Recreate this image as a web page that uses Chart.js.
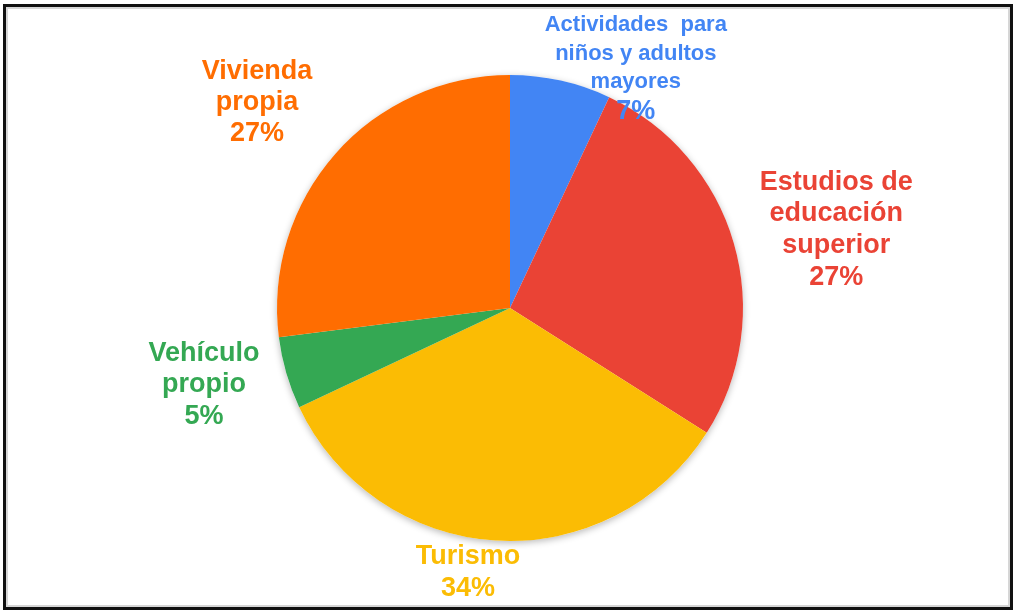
<!DOCTYPE html>
<html lang="es">
<head>
<meta charset="UTF-8">
<title>Distribución</title>
<script src="https://cdn.jsdelivr.net/npm/chart.js"></script>
<style>
  html, body { margin: 0; padding: 0; background: #fff; }
  #wrap { position: relative; width: 1014px; height: 611px; }
  #wrap canvas { position: absolute; left: 0; top: 0; }
  #frame {
    position: absolute; left: 3px; top: 4px; width: 1004px; height: 600px;
    border: 3px solid #111; box-shadow: inset 0 0 0 2px #d6d6d6;
    pointer-events: none;
  }
</style>
</head>
<body>
<div id="wrap">
  <canvas id="pie" width="1014" height="611"></canvas>
  <div id="frame"></div>
</div>
<script>
  // categorías, en orden horario desde las 12
  const categorias = [
    "Actividades para niños y adultos mayores",
    "Estudios de educación superior",
    "Turismo",
    "Vehículo propio",
    "Vivienda propia"
  ];
  const porcentajes = [7, 27, 34, 5, 27];
  const colores = ["#4285F4", "#EA4335", "#FBBC04", "#34A853", "#FF6D01"];

  // texto de cada etiqueta, partido en líneas
  const lineas = [
    ["Actividades  para", "niños y adultos", "mayores"],
    ["Estudios de", "educación", "superior"],
    ["Turismo"],
    ["Vehículo", "propio"],
    ["Vivienda", "propia"]
  ];

  // posición de cada bloque de texto respecto al centro (en radios), tamaño y interlineado
  const etiquetaPos = [[0.54, -1.03], [1.40, -0.335], [-0.18, 1.137], [-1.313, 0.33], [-1.086, -0.88]];
  const etiquetaFuente = [22, 27, 27, 27, 27];
  const etiquetaAlto = [28.7, 31.8, 32, 31.5, 31];
  const fuentePct = 27;

  const sombra = {
    id: "sombra",
    beforeDatasetsDraw(chart) {
      const arc = chart.getDatasetMeta(0).data[0];
      if (!arc) return;
      const ctx = chart.ctx;
      ctx.save();
      ctx.shadowColor = "rgba(0,0,0,0.28)";
      ctx.shadowBlur = 7;
      ctx.shadowOffsetY = 2;
      ctx.fillStyle = "#fff";
      ctx.beginPath();
      ctx.arc(arc.x, arc.y, arc.outerRadius, 0, Math.PI * 2);
      ctx.fill();
      ctx.restore();
    }
  };

  const etiquetas = {
    id: "etiquetas",
    afterDatasetsDraw(chart) {
      const meta = chart.getDatasetMeta(0);
      const ctx = chart.ctx;
      const familia = "px 'Liberation Sans', Arial, sans-serif";
      ctx.save();
      ctx.textAlign = "center";
      ctx.textBaseline = "middle";
      meta.data.forEach((arc, i) => {
        const r = arc.outerRadius;
        const cx = arc.x + etiquetaPos[i][0] * r;
        const cy = arc.y + etiquetaPos[i][1] * r;
        const filas = lineas[i].concat([porcentajes[i] + "%"]);
        const h = etiquetaAlto[i];
        const y0 = cy - (filas.length - 1) * h / 2;
        ctx.fillStyle = colores[i];
        filas.forEach((t, k) => {
          const size = k === filas.length - 1 ? fuentePct : etiquetaFuente[i];
          ctx.font = "bold " + size + familia;
          ctx.fillText(t, cx, y0 + k * h);
        });
      });
      ctx.restore();
    }
  };

  new Chart(document.getElementById("pie"), {
    type: "pie",
    data: {
      labels: categorias,
      datasets: [{
        data: porcentajes,
        backgroundColor: colores,
        borderWidth: 0
      }]
    },
    options: {
      responsive: false,
      animation: false,
      layout: { padding: { top: 75, bottom: 70, left: 200, right: 194 } },
      plugins: {
        legend: { display: false },
        tooltip: { enabled: false }
      }
    },
    plugins: [sombra, etiquetas]
  });
</script>
</body>
</html>
